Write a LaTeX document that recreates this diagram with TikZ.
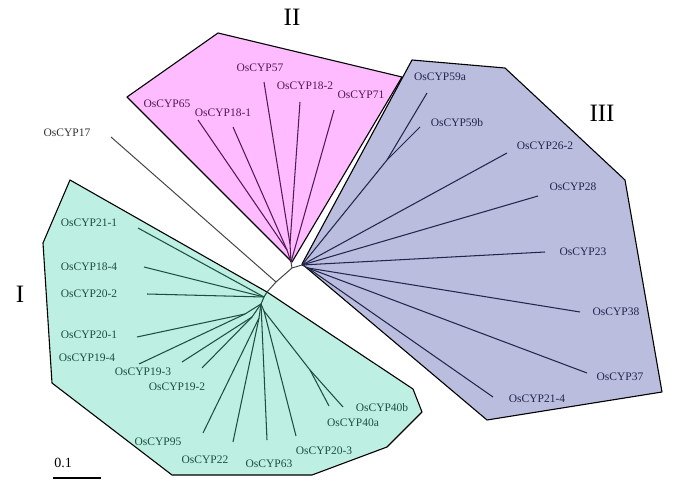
\documentclass[tikz,border=0pt]{standalone}
\usepackage{fontspec}
\setmainfont{Liberation Serif}
\definecolor{fillI}{RGB}{189,240,226}
\definecolor{fillII}{RGB}{255,187,255}
\definecolor{fillIII}{RGB}{187,189,223}
\definecolor{inkI}{RGB}{30,78,64}
\definecolor{inkII}{RGB}{80,28,80}
\definecolor{inkIII}{RGB}{34,38,74}
\definecolor{inkO}{RGB}{70,70,70}
\begin{document}
\begin{tikzpicture}[x=1pt, y=-1pt, line join=round,
    lab/.style = {inner sep=0pt, font=\fontsize{11.5}{12}\selectfont},
    labI/.style = {lab, text=inkI},
    labII/.style = {lab, text=inkII},
    labIII/.style = {lab, text=inkIII},
    roman/.style = {inner sep=0pt, font=\fontsize{25}{26}\selectfont},
    clade/.style = {draw=black, line width=1.1pt},
    brI/.style = {draw=inkI, line width=1.05pt},
    brII/.style = {draw=inkII, line width=1.05pt},
    brIII/.style = {draw=inkIII, line width=1.05pt},
    brO/.style = {draw=inkO, line width=1pt}]
    \useasboundingbox (0,0) rectangle (685,497);

    % clade backgrounds
    \fill[fillI] (70,180) -- (267,292) -- (413,389) -- (422,412) -- (387,447) -- (312,475) -- (172,475) -- (52,383) -- (43,243) -- cycle;
    \fill[fillII] (218,33) -- (402,77) -- (292,262) -- (127,97) -- cycle;
    \fill[fillIII] (412,60) -- (505,68) -- (625,180) -- (662,392) -- (487,420) -- (302,264) -- cycle;
    \draw[clade] (70,180) -- (267,292) -- (413,389) -- (422,412) -- (387,447) -- (312,475) -- (172,475) -- (52,383) -- (43,243) -- cycle;
    \draw[clade] (218,33) -- (402,77) -- (292,262) -- (127,97) -- cycle;
    \draw[clade] (412,60) -- (505,68) -- (625,180) -- (662,392) -- (487,420) -- (302,264) -- cycle;

    % inner nodes
    \coordinate (c) at (292,268);
    \coordinate (j17) at (276,282);
    \coordinate (g0) at (267,292);
    \coordinate (gA) at (264,297);
    \coordinate (gB) at (261,304);
    \coordinate (g1) at (245,314);
    \coordinate (g2) at (252,317);
    \coordinate (g3) at (259,318);
    \coordinate (g4) at (264,311);
    \coordinate (g5) at (310,370);
    \coordinate (ph) at (291,262);
    \coordinate (p1) at (287,250);
    \coordinate (p2) at (290,244);
    \coordinate (bh) at (302,265);
    \coordinate (b1) at (387,160);
    \coordinate (b2) at (308,268);

    % tips
    \coordinate (t17) at (111,137);
    \coordinate (t21-1) at (138,228);
    \coordinate (t18-4) at (144,267);
    \coordinate (t20-2) at (147,294);
    \coordinate (t20-1) at (137,337);
    \coordinate (t19-4) at (139,364);
    \coordinate (t19-3) at (182,362);
    \coordinate (t19-2) at (202,368);
    \coordinate (t95) at (203,433);
    \coordinate (t22) at (233,442);
    \coordinate (t63) at (267,440);
    \coordinate (t20-3) at (296,436);
    \coordinate (t40a) at (329,406);
    \coordinate (t40b) at (343,407);
    \coordinate (t65) at (198,120);
    \coordinate (t18-1) at (233,127);
    \coordinate (t57) at (264,82);
    \coordinate (t18-2) at (300,102);
    \coordinate (t71) at (334,110);
    \coordinate (t59a) at (427,93);
    \coordinate (t59b) at (420,127);
    \coordinate (t26-2) at (507,153);
    \coordinate (t28) at (538,196);
    \coordinate (t23) at (545,252);
    \coordinate (t38) at (580,312);
    \coordinate (t37) at (587,373);
    \coordinate (t21-4) at (493,397);

    % backbone
    \draw[brO] (ph) -- (c) -- (bh);
    \draw[brO] (c) -- (j17) -- (t17);
    \draw[brO] (j17) -- (g0);

    % clade I
    \draw[brI] (g0) -- (gA) -- (gB);
    \draw[brI] (gA) -- (t21-1);
    \draw[brI] (gA) -- (t18-4);
    \draw[brI] (gA) -- (t20-2);
    \draw[brI] (gB) -- (g1) -- (t20-1);
    \draw[brI] (g1) -- (t19-4);
    \draw[brI] (gB) -- (g2) -- (t19-3);
    \draw[brI] (g2) -- (t19-2);
    \draw[brI] (gB) -- (g3) -- (t95);
    \draw[brI] (g3) -- (t22);
    \draw[brI] (gB) -- (t63);
    \draw[brI] (gB) -- (g4) -- (t20-3);
    \draw[brI] (g4) -- (g5) -- (t40a);
    \draw[brI] (g5) -- (t40b);

    % clade II
    \draw[brII] (ph) -- (p1) -- (t65);
    \draw[brII] (p1) -- (t18-1);
    \draw[brII] (ph) -- (p2) -- (t57);
    \draw[brII] (p2) -- (t18-2);
    \draw[brII] (ph) -- (t71);

    % clade III
    \draw[brIII] (bh) -- (b1) -- (t59a);
    \draw[brIII] (b1) -- (t59b);
    \draw[brIII] (bh) -- (t26-2);
    \draw[brIII] (bh) -- (t28);
    \draw[brIII] (bh) -- (t23);
    \draw[brIII] (bh) -- (b2) -- (t38);
    \draw[brIII] (b2) -- (t37);
    \draw[brIII] (b2) -- (t21-4);

    % labels
    \node[lab, text=black!80] (n17) at (67,133) {OsCYP17};
    \node[labI] (n21-1) at (89,223) {OsCYP21-1};
    \node[labI] (n18-4) at (89,267) {OsCYP18-4};
    \node[labI] (n20-2) at (89,294) {OsCYP20-2};
    \node[labI] (n20-1) at (89,335) {OsCYP20-1};
    \node[labI] (n19-4) at (87,358) {OsCYP19-4};
    \node[labI] (n19-3) at (143,372) {OsCYP19-3};
    \node[labI] (n19-2) at (177,387) {OsCYP19-2};
    \node[labI] (n95) at (158,442) {OsCYP95};
    \node[labI] (n22) at (205,460) {OsCYP22};
    \node[labI] (n63) at (269,464) {OsCYP63};
    \node[labI] (n20-3) at (324,451) {OsCYP20-3};
    \node[labI] (n40a) at (353,423) {OsCYP40a};
    \node[labI] (n40b) at (382,408) {OsCYP40b};
    \node[labII] (n65) at (167,104) {OsCYP65};
    \node[labII] (n18-1) at (223,113) {OsCYP18-1};
    \node[labII] (n57) at (260,68) {OsCYP57};
    \node[labII] (n18-2) at (305,86) {OsCYP18-2};
    \node[labII] (n71) at (361,95) {OsCYP71};
    \node[labIII] (n59a) at (440,77) {OsCYP59a};
    \node[labIII] (n59b) at (457,123) {OsCYP59b};
    \node[labIII] (n26-2) at (545,146) {OsCYP26-2};
    \node[labIII] (n28) at (573,187) {OsCYP28};
    \node[labIII] (n23) at (583,252) {OsCYP23};
    \node[labIII] (n38) at (616,312) {OsCYP38};
    \node[labIII] (n37) at (620,377) {OsCYP37};
    \node[labIII] (n21-4) at (537,399) {OsCYP21-4};

    \node[roman] (cI) at (20,294) {I};
    \node[roman] (cII) at (292,17) {II};
    \node[roman] (cIII) at (602,113) {III};

    % scale bar
    \node[inner sep=0pt, font=\fontsize{14}{15}\selectfont] (sc) at (63,463) {0.1};
    \coordinate (s1) at (53,478);
    \coordinate (s2) at (101,478);
    \draw[line width=1.1pt] (s1) -- (s2);
\end{tikzpicture}
\end{document}
